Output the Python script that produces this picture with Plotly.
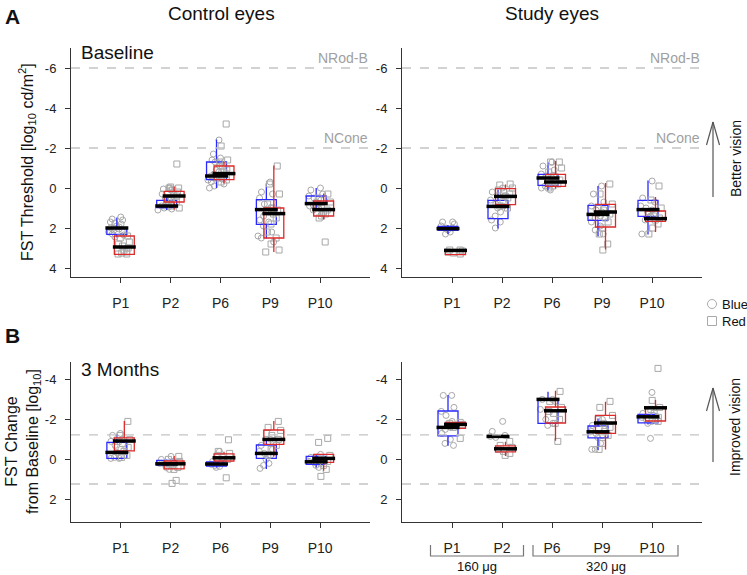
import plotly.graph_objects as go

patients = ["P1", "P2", "P6", "P9", "P10"]
yticks_top = [-6, -4, -2, 0, 2, 4]
yticks_bot = [-4, -2, 0, 2]

# A - baseline, control eyes (q1, median, q3, whisker ends, points) per patient
cb_blue_q1 = [1.98, 0.62, -1.30, 0.58, 0.40]
cb_blue_med = [2.00, 0.90, -0.60, 1.08, 0.78]
cb_blue_q3 = [2.32, 0.98, -0.42, 1.82, 0.80]
cb_blue_lo = [1.48, 0.42, -2.42, -0.22, 0.00]
cb_blue_hi = [2.48, 1.10, 0.00, 2.53, 1.00]
cb_blue_pts = [[1.45, 1.55, 1.6, 1.7, 1.75, 1.8, 1.9, 1.95, 2.0, 2.0, 2.05, 2.1, 2.15, 2.2, 2.3, 2.35, 2.45],
               [0.0, 0.05, 0.1, 0.3, 0.5, 0.62, 0.7, 0.8, 0.9, 0.9, 0.95, 1.0, 1.05, 1.1],
               [-2.4, -1.7, -1.5, -1.4, -1.3, -1.1, -0.9, -0.8, -0.7, -0.6, -0.6, -0.5, -0.45, -0.4, -0.3, -0.2, -0.1, 0.0],
               [-0.3, 0.2, 0.3, 0.5, 0.8, 1.0, 1.1, 1.2, 1.4, 1.6, 1.7, 1.9, 2.2, 2.4, 2.5, 2.7],
               [0.0, 0.1, 0.3, 0.4, 0.5, 0.6, 0.7, 0.8, 0.85, 0.9, 1.0, 1.1, 1.3]]
cb_red_q1 = [2.40, 0.17, -1.10, 1.00, 0.65]
cb_red_med = [2.95, 0.40, -0.72, 1.28, 1.08]
cb_red_q3 = [3.32, 0.70, -0.42, 2.50, 1.40]
cb_red_lo = [2.40, -0.08, -1.30, -1.13, 0.28]
cb_red_hi = [3.32, 1.08, -0.22, 3.20, 1.57]
cb_red_pts = [[2.4, 2.5, 2.7, 2.8, 2.9, 3.0, 3.1, 3.2, 3.25, 3.3, 3.3],
              [-1.2, -0.05, 0.0, 0.0, 0.1, 0.2, 0.3, 0.4, 0.5, 0.6, 0.7, 0.9, 1.0],
              [-3.2, -2.1, -1.4, -1.3, -1.1, -0.9, -0.8, -0.7, -0.6, -0.5, -0.4, -0.3],
              [-1.1, -0.2, 0.3, 0.8, 1.0, 1.1, 1.3, 1.5, 1.8, 2.2, 2.5, 2.8, 3.1, 3.2],
              [0.3, 0.5, 0.7, 0.9, 1.0, 1.1, 1.2, 1.3, 1.4, 1.5, 2.7]]

# A - baseline, study eyes
sb_blue_q1 = [1.92, 0.62, -0.68, 0.87, 0.62]
sb_blue_med = [2.03, 0.92, -0.50, 1.32, 1.08]
sb_blue_q3 = [2.12, 1.53, -0.13, 1.62, 1.42]
sb_blue_lo = [1.85, 0.07, -1.27, -0.10, -0.38]
sb_blue_hi = [2.30, 2.03, 0.12, 2.42, 2.32]
sb_blue_pts = [[1.7, 1.7, 1.8, 1.9, 2.0, 2.0, 2.1, 2.2, 2.3],
               [0.0, 0.2, 0.4, 0.6, 0.8, 0.9, 1.0, 1.2, 1.4, 1.6, 1.7, 2.0],
               [-1.3, -1.1, -0.9, -0.7, -0.6, -0.5, -0.4, -0.3, -0.1, 0.0, 0.1],
               [-0.1, 0.3, 0.7, 0.9, 1.1, 1.2, 1.3, 1.4, 1.5, 1.7, 1.9, 2.1, 2.3],
               [-0.35, 0.5, 0.7, 0.9, 1.0, 1.1, 1.2, 1.4, 1.6, 2.3]]
sb_red_q1 = [3.08, 0.03, -0.68, 0.82, 1.15]
sb_red_med = [3.12, 0.42, -0.30, 1.20, 1.53]
sb_red_q3 = [3.33, 0.83, -0.08, 1.95, 1.67]
sb_red_lo = [3.08, -0.17, -1.35, -0.25, 0.45]
sb_red_hi = [3.33, 1.03, 0.03, 3.08, 2.20]
sb_red_pts = [[3.1, 3.1, 3.15, 3.2, 3.25, 3.3],
              [-0.2, -0.15, 0.0, 0.1, 0.2, 0.3, 0.4, 0.5, 0.7, 0.9, 1.0],
              [-1.3, -1.3, -1.0, -0.8, -0.6, -0.4, -0.3, -0.2, -0.1, 0.0],
              [-0.2, 0.3, 0.8, 1.0, 1.1, 1.3, 1.5, 1.7, 2.0, 2.3, 2.8, 3.1],
              [-0.1, 0.6, 1.0, 1.2, 1.4, 1.5, 1.6, 1.8, 2.0, 2.3]]

# B - change at 3 months, control eyes
cm_blue_q1 = [-0.85, 0.05, 0.13, -0.72, -0.15]
cm_blue_med = [-0.35, 0.22, 0.23, -0.30, 0.12]
cm_blue_q3 = [-0.05, 0.28, 0.33, -0.05, 0.25]
cm_blue_lo = [-1.25, 0.00, 0.10, -1.00, -0.25]
cm_blue_hi = [0.00, 0.35, 0.40, 0.48, 0.40]
cm_blue_pts = [[-1.3, -1.2, -1.0, -0.9, -0.7, -0.5, -0.35, -0.2, -0.1, -0.05, -0.05],
               [-0.15, 0.0, 0.1, 0.2, 0.25, 0.3, 0.4, 0.5],
               [-0.4, 0.1, 0.2, 0.25, 0.3, 0.35, 0.4],
               [-1.0, -0.7, -0.5, -0.4, -0.3, -0.2, 0.0, 0.2, 0.3, 0.45],
               [-0.25, -0.1, 0.0, 0.1, 0.15, 0.2, 0.3, 0.4]]
cm_red_q1 = [-1.08, 0.08, -0.28, -1.47, -0.25]
cm_red_med = [-0.92, 0.22, -0.08, -1.00, -0.05]
cm_red_q3 = [-0.43, 0.47, 0.08, -0.75, 0.15]
cm_red_lo = [-1.92, -0.17, -0.38, -1.92, -0.25]
cm_red_hi = [-0.43, 0.47, 0.08, -0.15, 0.57]
cm_red_pts = [[-1.9, -1.2, -1.0, -0.9, -0.8, -0.6, -0.4, -0.2, -0.1],
              [-0.15, 0.0, 0.1, 0.2, 0.3, 0.4, 0.5, 1.05, 1.2],
              [-0.98, -0.4, -0.3, -0.2, -0.1, 0.0, 0.1, 0.92],
              [-1.9, -1.6, -1.45, -1.3, -1.2, -1.0, -0.9, -0.7, -0.5, -0.2],
              [-1.05, -0.85, -0.2, -0.1, 0.0, 0.1, 0.3, 0.5, 0.85]]

# B - change at 3 months, study eyes
sm_blue_q1 = [-2.42, -1.17, -3.00, -1.67, -2.25]
sm_blue_med = [-1.60, -1.15, -3.00, -1.38, -2.13]
sm_blue_q3 = [-1.18, -1.12, -1.80, -1.08, -1.83]
sm_blue_lo = [-3.22, -1.17, -3.38, -2.05, -2.25]
sm_blue_hi = [-0.68, -1.12, -1.80, -0.47, -1.75]
sm_blue_pts = [[-3.2, -3.2, -2.6, -2.4, -2.2, -1.9, -1.7, -1.6, -1.5, -1.3, -1.0, -0.8, -0.7],
               [-1.9, -1.4, -1.2, -1.15, -1.1],
               [-3.0, -3.0, -2.9, -2.5, -2.0, -1.8, -1.7],
               [-2.0, -1.7, -1.5, -1.4, -1.3, -1.2, -1.1, -0.8, -0.5, -0.5],
               [-3.35, -2.3, -2.2, -2.1, -2.0, -1.9, -1.8, -1.05]]
sm_red_q1 = [-1.85, -0.68, -2.62, -2.20, -2.60]
sm_red_med = [-1.75, -0.53, -2.43, -1.82, -2.58]
sm_red_q3 = [-1.55, -0.38, -1.82, -1.30, -1.92]
sm_red_lo = [-1.85, -0.88, -3.43, -2.88, -2.97]
sm_red_hi = [-1.55, -0.17, -0.93, -0.50, -1.92]
sm_red_pts = [[-1.85, -1.8, -1.75, -1.7, -1.6, -1.05],
              [-0.9, -0.7, -0.6, -0.5, -0.4, -0.3, -0.2],
              [-3.4, -2.9, -2.6, -2.4, -2.3, -2.0, -1.8, -0.9],
              [-2.9, -2.6, -2.2, -2.0, -1.8, -1.6, -1.4, -1.2, -0.8, -0.5],
              [-4.55, -2.95, -2.6, -2.5, -2.3, -2.1, -2.0, -1.9]]

# reference levels
norm_levels = [-6, -2]
norm_names = ["NRod-B", "NCone"]
change_limit = 1.23

FONT = "Liberation Sans, Arial, sans-serif"
BLUE = "#2a2aff"
RED = "#dd2a2a"
GREY_PT = "#a8a8a8"
W, H = 747, 575


def px(x, y):
    # pixel position -> paper coords
    return x / W, 1 - y / H


fig = go.Figure()


def add_group(ax, q1, med, q3, lo, hi, pts, color, symbol, offset):
    xa, ya = "x" + ax, "y" + ax
    pos = [i + offset for i in range(len(patients))]
    for p, vals in zip(pos, pts):
        fig.add_trace(go.Box(y=vals, x0=p, xaxis=xa, yaxis=ya, boxpoints="all",
                             jitter=0.9, pointpos=0, width=0.4,
                             line=dict(color="rgba(0,0,0,0)", width=0),
                             fillcolor="rgba(0,0,0,0)",
                             marker=dict(symbol=symbol, size=6, color=GREY_PT,
                                         line=dict(color=GREY_PT, width=1)),
                             showlegend=False, hoverinfo="y"))
    fig.add_trace(go.Box(x=pos, q1=q1, median=med, q3=q3, lowerfence=lo, upperfence=hi,
                         xaxis=xa, yaxis=ya, width=0.4, whiskerwidth=0,
                         line=dict(color=color, width=1.3), fillcolor="rgba(0,0,0,0)",
                         boxpoints=False, showlegend=False))
    mx, my = [], []
    for p, m in zip(pos, med):
        mx += [p - 0.23, p + 0.23, None]
        my += [m, m, None]
    fig.add_trace(go.Scatter(x=mx, y=my, xaxis=xa, yaxis=ya, mode="lines",
                             line=dict(color="black", width=3.5),
                             showlegend=False, hoverinfo="skip"))


panels = [
    ("", cb_blue_q1, cb_blue_med, cb_blue_q3, cb_blue_lo, cb_blue_hi, cb_blue_pts,
     cb_red_q1, cb_red_med, cb_red_q3, cb_red_lo, cb_red_hi, cb_red_pts),
    ("2", sb_blue_q1, sb_blue_med, sb_blue_q3, sb_blue_lo, sb_blue_hi, sb_blue_pts,
     sb_red_q1, sb_red_med, sb_red_q3, sb_red_lo, sb_red_hi, sb_red_pts),
    ("3", cm_blue_q1, cm_blue_med, cm_blue_q3, cm_blue_lo, cm_blue_hi, cm_blue_pts,
     cm_red_q1, cm_red_med, cm_red_q3, cm_red_lo, cm_red_hi, cm_red_pts),
    ("4", sm_blue_q1, sm_blue_med, sm_blue_q3, sm_blue_lo, sm_blue_hi, sm_blue_pts,
     sm_red_q1, sm_red_med, sm_red_q3, sm_red_lo, sm_red_hi, sm_red_pts),
]
for pnl in panels:
    ax = pnl[0]
    add_group(ax, *pnl[1:7], BLUE, "circle-open", -0.08)
    add_group(ax, *pnl[7:13], RED, "square-open", 0.07)

xdom = [[71 / W, 370 / W], [402 / W, 702 / W]]
ydom_top = [1 - 277 / H, 1 - 48 / H]
ydom_bot = [1 - 522 / H, 1 - 362 / H]

axis_common = dict(showline=True, linecolor="#333", linewidth=1, ticks="outside",
                   ticklen=5, tickcolor="#333", showgrid=False, zeroline=False,
                   tickfont=dict(family=FONT, size=13, color="#222"),
                   ticklabelstandoff=6)
layout = dict(width=W, height=H, margin=dict(l=0, r=0, t=0, b=0),
              plot_bgcolor="white", paper_bgcolor="white", boxmode="overlay",
              font=dict(family=FONT, color="#222"))
for i, ax in enumerate(["", "2", "3", "4"]):
    top = i < 2
    yt = yticks_top if top else yticks_bot
    layout["xaxis" + ax] = dict(axis_common, domain=xdom[i % 2], range=[-1, 5],
                                type="linear", tickvals=list(range(len(patients))),
                                ticktext=patients, anchor="y" + ax,
                                tickfont=dict(family=FONT, size=14, color="#222"),
                                ticklabelstandoff=8)
    layout["yaxis" + ax] = dict(axis_common, domain=ydom_top if top else ydom_bot,
                                range=[4.45, -7.0] if top else [3.13, -4.87],
                                tickvals=yt, ticktext=[str(v) for v in yt],
                                anchor="x" + ax)
fig.update_layout(**layout)

# reference lines
for ax in ["", "2"]:
    for lvl, name in zip(norm_levels, norm_names):
        fig.add_shape(type="line", xref="x" + ax + " domain", yref="y" + ax,
                      x0=0, x1=1, y0=lvl, y1=lvl,
                      line=dict(color="#c4c4c4", width=1.3, dash="dash"))
        fig.add_annotation(xref="x" + ax + " domain", yref="y" + ax, x=1.0, y=lvl,
                           text=name, showarrow=False, xanchor="right", yanchor="bottom",
                           yshift=0, font=dict(family=FONT, size=14, color="#a0a0a0"))
for ax in ["3", "4"]:
    for lvl in [-change_limit, change_limit]:
        fig.add_shape(type="line", xref="x" + ax + " domain", yref="y" + ax,
                      x0=0, x1=1, y0=lvl, y1=lvl,
                      line=dict(color="#c4c4c4", width=1.3, dash="dash"))


# titles and labels
def text(x, y, s, size, xanchor="center", yanchor="middle", **kw):
    xp, yp = px(x, y)
    fig.add_annotation(xref="paper", yref="paper", x=xp, y=yp, text=s, showarrow=False,
                       xanchor=xanchor, yanchor=yanchor,
                       font=dict(family=FONT, size=size, color=kw.pop("color", "#111")), **kw)


text(221, 13, "Control eyes", 19)
text(552, 13, "Study eyes", 19)
text(3, 16, "<b>A</b>", 21, xanchor="left")
text(3, 335, "<b>B</b>", 21, xanchor="left")
text(79, 53, "Baseline", 19, xanchor="left")
text(79, 370, "3 Months", 19, xanchor="left")
text(27, 162, "FST Threshold [log<sub>10</sub> cd/m<sup>2</sup>]", 16, textangle=-90)
text(23, 442, "FST Change<br>from Baseline [log<sub>10</sub>]", 16, textangle=-90)
text(736, 159, "Better vision", 14, textangle=-90)
text(735, 427, "Improved vision", 14, textangle=-90)

# arrows
for tip, base in [((713, 122), 197), ((713, 388), 462)]:
    tx, ty = tip
    for (x0, y0, x1, y1) in [(tx, base, tx, ty), (tx - 6.5, ty + 23, tx, ty), (tx + 6.5, ty + 23, tx, ty)]:
        a, b = px(x0, y0)
        c, d = px(x1, y1)
        fig.add_shape(type="line", xref="paper", yref="paper", x0=a, y0=b, x1=c, y1=d,
                      line=dict(color="#555", width=1.2))

# legend
cx, cy = px(712, 304)
fig.add_shape(type="circle", xref="paper", yref="paper", x0=cx - 4.5 / W, x1=cx + 4.5 / W,
              y0=cy - 4.5 / H, y1=cy + 4.5 / H, line=dict(color="#aaa", width=1))
cx, cy = px(712, 321)
fig.add_shape(type="rect", xref="paper", yref="paper", x0=cx - 4.5 / W, x1=cx + 4.5 / W,
              y0=cy - 4.5 / H, y1=cy + 4.5 / H, line=dict(color="#aaa", width=1))
text(720, 304, "Blue", 13, xanchor="left")
text(720, 321, "Red", 13, xanchor="left")

# dose brackets under study eyes
b_top, b_bot = 1 - 545 / H, 1 - 556 / H
for x0, x1, label in [(-0.43, 1.43, "160 μg"), (1.62, 4.52, "320 μg")]:
    fig.add_shape(type="path", xref="x4", yref="paper",
                  path=f"M {x0},{b_top} L {x0},{b_bot} L {x1},{b_bot} L {x1},{b_top}",
                  line=dict(color="#777", width=1.2))
    fig.add_annotation(xref="x4", yref="paper", x=(x0 + x1) / 2, y=1 - 566 / H, text=label,
                       showarrow=False, xanchor="center", yanchor="middle",
                       font=dict(family=FONT, size=13, color="#111"))

fig.write_html("out.html", config={"displayModeBar": False},
               post_script="document.body.style.margin='0';")
